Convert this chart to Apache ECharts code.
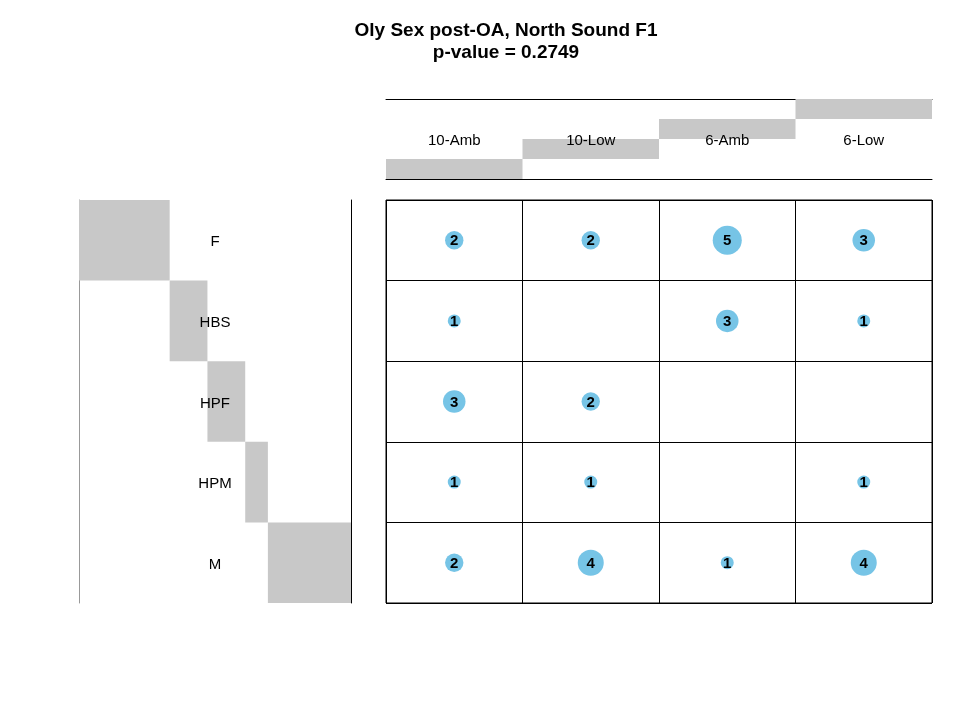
<!DOCTYPE html>
<html>
<head>
<meta charset="utf-8">
<script src="https://cdn.jsdelivr.net/npm/echarts@6/dist/echarts.min.js"></script>
<style>
html,body{margin:0;padding:0;background:#fff;}
#chart{width:972px;height:701px;}
</style>
</head>
<body>
<div id="chart"></div>
<script>
const titleText = 'Oly Sex post-OA, North Sound F1';
const subtitleText = 'p-value = 0.2749';
const cols = ['10-Amb', '10-Low', '6-Amb', '6-Low'];
const rows = ['F', 'HBS', 'HPF', 'HPM', 'M'];
const rowF   = [2, 2, 5, 3];
const rowHBS = [1, 0, 3, 1];
const rowHPF = [3, 2, 0, 0];
const rowHPM = [1, 1, 0, 1];
const rowM   = [2, 4, 1, 4];
const matrix = [rowF, rowHBS, rowHPF, rowHPM, rowM];

const FONT = 'Liberation Sans, Arial, sans-serif';
const GREY = '#C8C8C8';
const BLUE = '#76C4E6';

const colSums = cols.map((c, j) => matrix.reduce((s, r) => s + r[j], 0));
const rowSums = matrix.map(r => r.reduce((s, v) => s + v, 0));
const total = rowSums.reduce((s, v) => s + v, 0);
const cum = arr => { let acc = 0; return arr.map(v => { const o = acc; acc += v; return o; }); };
const colOffsets = cum(colSums);
const rowOffsets = cum(rowSums);

const points = [];
matrix.forEach((r, i) => r.forEach((v, j) => { if (v > 0) points.push([j, i, v]); }));

const textLabel = (fn) => ({
  show: true, position: 'inside', verticalAlign: 'middle', offset: [0, 1],
  formatter: fn, color: '#000', opacity: 1, textBorderWidth: 0,
  fontFamily: FONT, fontSize: 15
});

const chart = echarts.init(document.getElementById('chart'));
chart.setOption({
  animation: false,
  backgroundColor: '#fff',
  title: {
    text: titleText + '\n' + subtitleText,
    left: 501, top: 15, textAlign: 'center',
    textStyle: { fontFamily: FONT, fontSize: 19, fontWeight: 'bold', color: '#000', lineHeight: 22 }
  },
  grid: [
    { left: 386, top: 200, width: 546, height: 403, show: true, borderColor: '#000', borderWidth: 1 },
    { left: 386, top: 99, width: 546, height: 80 },
    { left: 79, top: 200, width: 272, height: 403 }
  ],
  xAxis: [
    { gridIndex: 0, type: 'category', data: cols, axisLine: { show: false }, axisTick: { show: false }, axisLabel: { show: false },
      splitLine: { show: true, interval: 0, lineStyle: { color: '#000', width: 1 } } },
    { gridIndex: 1, type: 'category', data: cols, position: 'bottom', axisLine: { show: true, lineStyle: { color: '#000' } }, axisTick: { show: false }, axisLabel: { show: false } },
    { gridIndex: 1, type: 'category', data: cols, position: 'top', axisLine: { show: true, lineStyle: { color: '#000' } }, axisTick: { show: false }, axisLabel: { show: false } },
    { gridIndex: 2, type: 'value', min: 0, max: total, axisLine: { show: false }, axisTick: { show: false }, axisLabel: { show: false }, splitLine: { show: false } }
  ],
  yAxis: [
    { gridIndex: 0, type: 'category', data: rows, inverse: true, axisLine: { show: false }, axisTick: { show: false }, axisLabel: { show: false },
      splitLine: { show: true, interval: 0, lineStyle: { color: '#000', width: 1 } } },
    { gridIndex: 1, type: 'value', min: 0, max: total, axisLine: { show: false }, axisTick: { show: false }, axisLabel: { show: false }, splitLine: { show: false } },
    { gridIndex: 2, type: 'category', data: rows, inverse: true, position: 'left', axisLine: { show: true, lineStyle: { color: '#999' } }, axisTick: { show: false }, axisLabel: { show: false } },
    { gridIndex: 2, type: 'category', data: rows, inverse: true, position: 'right', axisLine: { show: true, lineStyle: { color: '#000' } }, axisTick: { show: false }, axisLabel: { show: false } }
  ],
  series: [
    {
      type: 'scatter', xAxisIndex: 0, yAxisIndex: 0, data: points,
      symbolSize: d => 13 * Math.sqrt(d[2]),
      itemStyle: { color: BLUE, opacity: 1 },
      label: Object.assign(textLabel(p => p.value[2]), { fontWeight: 'bold' }),
      z: 5
    },
    {
      type: 'bar', xAxisIndex: 1, yAxisIndex: 1, stack: 'top', data: colOffsets,
      barWidth: '100%', itemStyle: { color: 'transparent' }, silent: true
    },
    {
      type: 'bar', xAxisIndex: 1, yAxisIndex: 1, stack: 'top', data: colSums,
      barWidth: '100%', itemStyle: { color: GREY }
    },
    {
      type: 'scatter', xAxisIndex: 1, yAxisIndex: 1, data: cols.map(c => [c, total / 2]),
      symbolSize: 0, z: 10, itemStyle: { opacity: 1 },
      label: Object.assign(textLabel(p => p.value[0]), { offset: [0, 2] })
    },
    {
      type: 'bar', xAxisIndex: 3, yAxisIndex: 2, stack: 'left', data: rowOffsets,
      barWidth: '100%', itemStyle: { color: 'transparent' }, silent: true
    },
    {
      type: 'bar', xAxisIndex: 3, yAxisIndex: 2, stack: 'left', data: rowSums,
      barWidth: '100%', itemStyle: { color: GREY }
    },
    {
      type: 'scatter', xAxisIndex: 3, yAxisIndex: 2, data: rows.map(r => [total / 2, r]),
      symbolSize: 0, z: 10, itemStyle: { opacity: 1 },
      label: Object.assign(textLabel(p => p.value[1]), { offset: [0, 2] })
    }
  ]
});
</script>
</body>
</html>
